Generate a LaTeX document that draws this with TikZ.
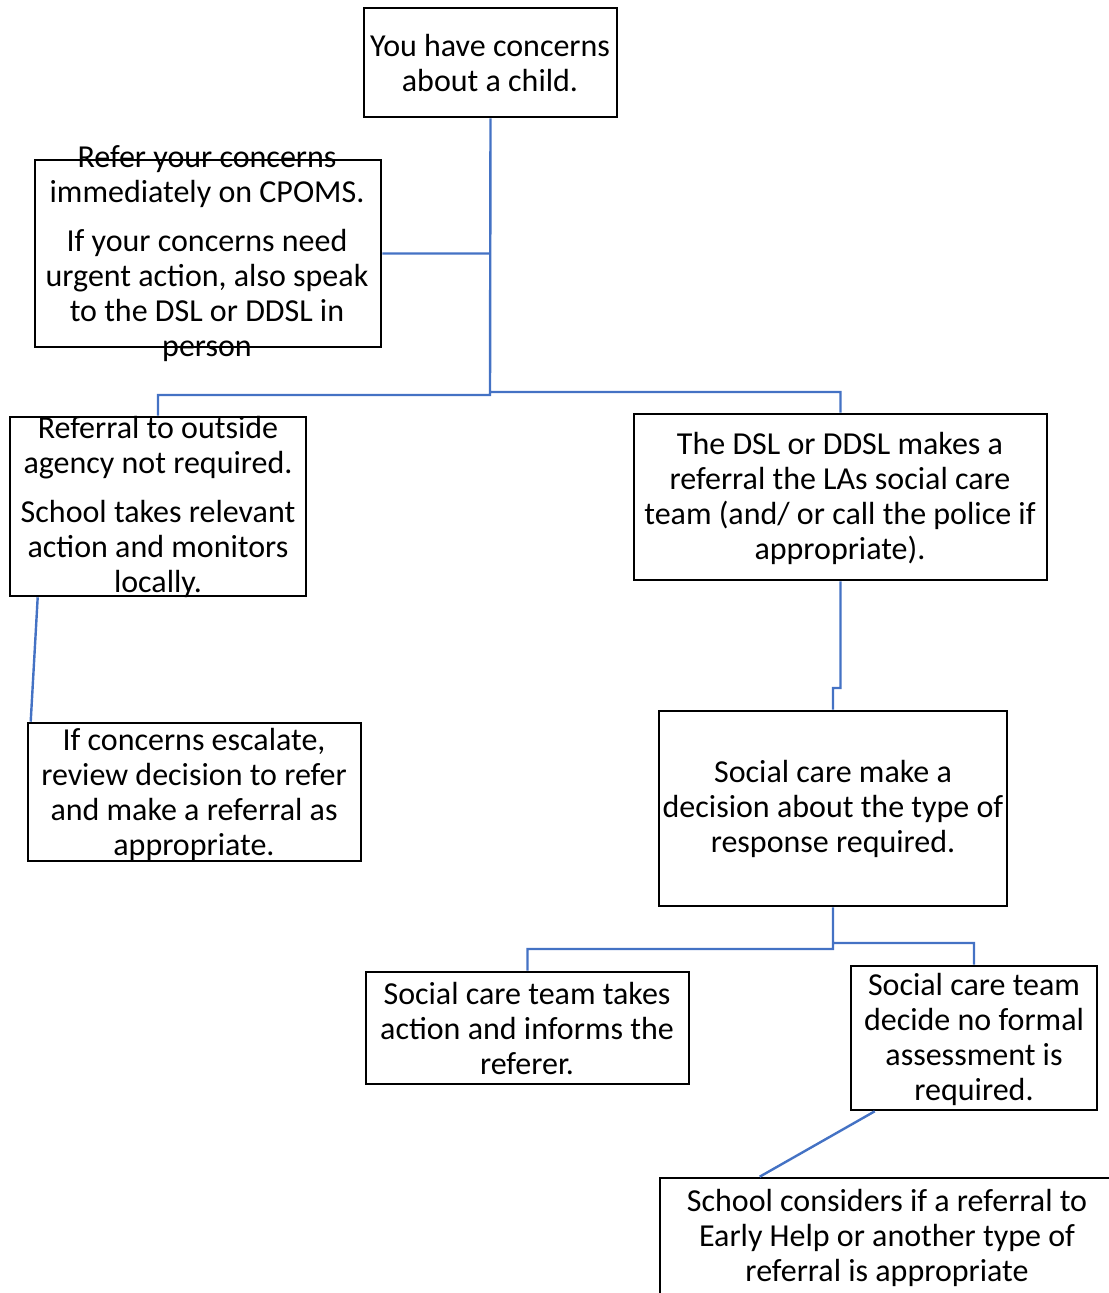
\documentclass[tikz,border=0pt]{standalone}
\usepackage{fontspec}
\setmainfont{Carlito}
\usetikzlibrary{positioning}
\definecolor{linkblue}{RGB}{68,114,196}

\begin{document}
\begin{tikzpicture}[x=0.5pt,y=-0.5pt]
       \tikzset{box/.style = {rectangle, draw, line width=1.3pt, inner sep=0pt}, }
       \tikzset{txt/.style = {align=center, inner sep=0pt, font=\fontsize{16}{17.5}\selectfont}, }
       \tikzset{link/.style = {draw=linkblue, line width=1.2pt}, }
       \useasboundingbox (0,0) rectangle (1108,1293);

       % boxes
       \node[box, minimum width=126.5pt, minimum height=54.5pt] (A) at (490.5,62.5) {};
       \node[box, minimum width=173pt, minimum height=93.5pt] (B) at (208,253.5) {};
       \node[box, minimum width=148pt, minimum height=89.5pt] (C) at (158,506.5) {};
       \node[box, minimum width=206.5pt, minimum height=83pt] (D) at (840.5,497) {};
       \node[box, minimum width=166.5pt, minimum height=69pt] (E) at (194.5,792) {};
       \node[box, minimum width=174pt, minimum height=97.5pt] (F) at (833,808.5) {};
       \node[box, minimum width=161.5pt, minimum height=56pt] (G) at (527.5,1028) {};
       \node[box, minimum width=123pt, minimum height=72pt] (H) at (974,1038) {};
       \node[box, minimum width=227pt, minimum height=81pt] (I) at (887,1259) {};

       % texts
       \node[txt] (A-t) at (490,63) {You have concerns\\about a child.};
       \node[txt] (B-t) at (207,254) {Refer your concerns\\immediately on CPOMS.\\[7pt]If your concerns need\\urgent action, also speak\\to the DSL or DDSL in\\person};
       \node[txt] (C-t) at (158,507) {Referral to outside\\agency not required.\\[7pt]School takes relevant\\action and monitors\\locally.};
       \node[txt] (D-t) at (840,498) {The DSL or DDSL makes a\\referral the LAs social care\\team (and/ or call the police if\\appropriate).};
       \node[txt] (E-t) at (194,794) {If concerns escalate,\\review decision to refer\\and make a referral as\\appropriate.};
       \node[txt] (F-t) at (833,809) {Social care make a\\decision about the type of\\response required.};
       \node[txt] (G-t) at (527,1029) {Social care team takes\\action and informs the\\referer.};
       \node[txt] (H-t) at (974,1039) {Social care team\\decide no formal\\assessment is\\required.};
       \node[txt] (I-t) at (887,1238) {School considers if a referral to\\Early Help or another type of\\referral is appropriate};

       % connectors
       \coordinate (splitL) at (490,395);
       \coordinate (splitR) at (490,392);
       \coordinate (jog) at (833,688);
       \coordinate (splitG) at (833,949);
       \coordinate (splitH) at (833,943);

       \path[link]
       (A.south) -- (splitL) -| (C.north)
       (splitR) -| (D.north)
       (B.east) -- (B.east -| A.south)
       (D.south) |- (jog) -- (F.north)
       (F.south) -- (splitG) -| (G.north)
       (splitH) -| (H.north)
       ([xshift=14.5pt]C.south west) -- ([xshift=2pt]E.north west)
       ([xshift=12.5pt]H.south west) -- ([xshift=50.5pt]I.north west);
\end{tikzpicture}
\end{document}
